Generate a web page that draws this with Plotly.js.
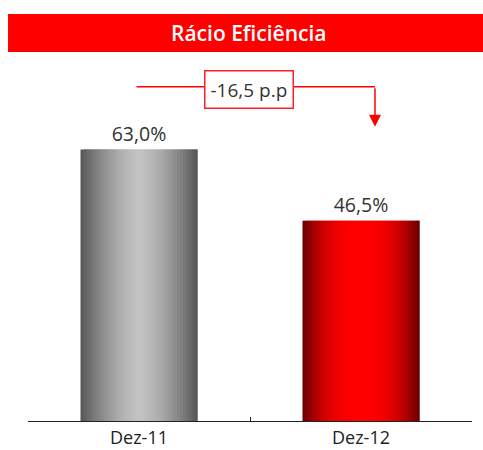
<!DOCTYPE html>
<html><head><meta charset="utf-8">
<script src="https://cdn.plot.ly/plotly-3.0.1.min.js"></script>
<style>html,body{margin:0;padding:0;background:#fff}#chart{width:483px;height:450px}</style>
</head><body><div id="chart"></div>
<script>
const categories = ["Dez-11", "Dez-12"];
const values = [63.0, 46.5];
const valueLabels = ["63,0%", "46,5%"];
const changeLabel = "-16,5 p.p";
const chartTitle = "Rácio Eficiência";

const FONT = "Open Sans, Noto Sans, DejaVu Sans, sans-serif";
const N = 40, BW = 0.527;
function shade(u, edge, center, p) {
  const s = 1 - Math.pow(Math.abs(2 * u - 1), p);
  return edge.map((e, i) => Math.round(e + (center[i] - e) * s)).join(',');
}
const traces = [];
for (let i = 0; i < N; i++) {
  const u = (i + 0.5) / N;
  const g = shade(u, [85, 85, 85], [194, 194, 194], 1.5);
  const r = shade(u, [100, 0, 0], [255, 0, 0], 2.5);
  traces.push({
    type: 'bar', x: categories, y: values,
    width: (i < N - 1 ? 2 : 1) * BW / N, offset: -BW / 2 + i * BW / N,
    marker: { color: ['rgb(' + g + ')', 'rgb(' + r + ')'], line: { width: 0 } },
    hoverinfo: 'skip', showlegend: false
  });
}
traces.push({
  type: 'bar', x: categories, y: values, width: BW,
  text: valueLabels, textposition: 'outside', cliponaxis: false, constraintext: 'none',
  textfont: { family: FONT, size: 19.5, color: '#333' },
  marker: { color: 'rgba(0,0,0,0)', line: { width: 0 } },
  hoverinfo: 'skip', showlegend: false
});

const lineY = 77.6, arrowX = 1.063, arrowTipY = 68.3;
const layout = {
  width: 483, height: 450,
  margin: { l: 28, r: 11, t: 60, b: 29 },
  paper_bgcolor: '#fff', plot_bgcolor: '#fff',
  barmode: 'overlay', showlegend: false,
  font: { family: FONT, color: '#222' },
  xaxis: {
    type: 'category', range: [-0.5, 1.5], showline: true, linecolor: '#222', linewidth: 1,
    ticks: 'inside', ticklen: 4, tickcolor: '#222', tickson: 'boundaries',
    showgrid: false, zeroline: false, tickfont: { family: FONT, size: 18, color: '#222' }
  },
  yaxis: { range: [0, 83.8], visible: false, showgrid: false, zeroline: false },
  shapes: [
    { type: 'rect', xref: 'paper', yref: 'paper', x0: -0.045, x1: 1.03, y0: 1.022, y1: 1.1274,
      fillcolor: '#ff0000', line: { width: 0 }, layer: 'below' },
    { type: 'line', xref: 'x', yref: 'y', x0: -0.011, x1: arrowX, y0: lineY, y1: lineY,
      line: { color: '#ff0000', width: 1.5 } }
  ],
  annotations: [
    { xref: 'paper', yref: 'paper', x: 0.498, y: 1.0748, xanchor: 'center', yanchor: 'middle',
      text: chartTitle, showarrow: false, font: { family: FONT, size: 21, color: '#fff', weight: 600 } },
    { xref: 'x', yref: 'y', x: 0.495, y: 76.9, xanchor: 'center', yanchor: 'middle',
      text: changeLabel, showarrow: false, bgcolor: '#fff', bordercolor: '#ff2020', borderwidth: 1.5, borderpad: 5,
      font: { family: FONT, size: 19, color: '#333' } },
    { xref: 'x', yref: 'y', x: arrowX, y: arrowTipY, axref: 'x', ayref: 'y', ax: arrowX, ay: lineY,
      text: '', showarrow: true, arrowhead: 2, arrowsize: 1.6, arrowwidth: 1.5, arrowcolor: '#ff0000' }
  ]
};
Plotly.newPlot('chart', traces, layout, { staticPlot: true, displayModeBar: false });
</script></body></html>
